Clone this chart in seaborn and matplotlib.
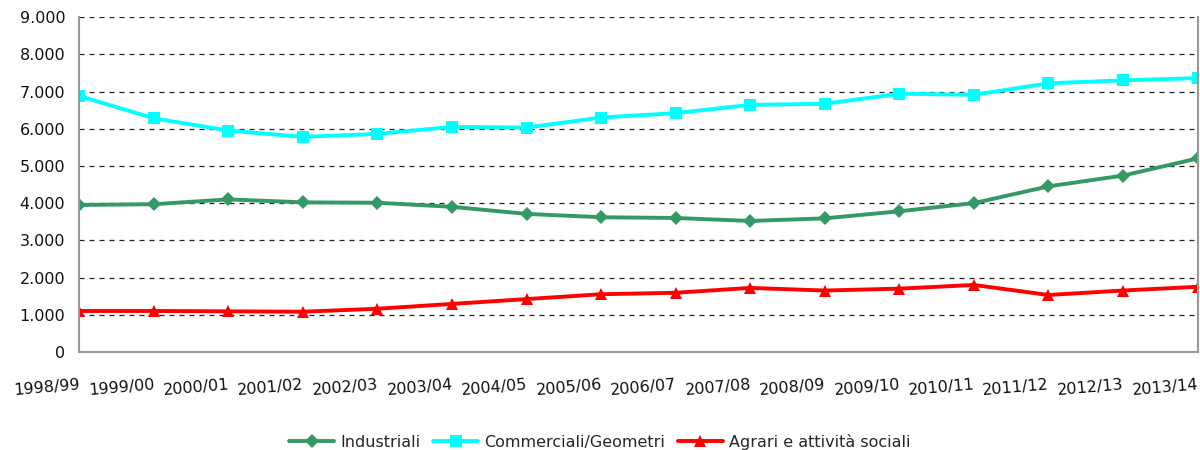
import matplotlib
matplotlib.use("Agg")
import matplotlib.pyplot as plt
import matplotlib.ticker as mticker
import seaborn as sns
import pandas as pd
import numpy as np

anni = ["1998/99", "1999/00", "2000/01", "2001/02", "2002/03", "2003/04", "2004/05", "2005/06",
        "2006/07", "2007/08", "2008/09", "2009/10", "2010/11", "2011/12", "2012/13", "2013/14"]
industriali = [3950, 3970, 4100, 4020, 4010, 3900, 3710, 3620, 3600, 3520, 3590, 3780, 4000, 4450, 4740, 5200]
commerciali = [6880, 6280, 5950, 5780, 5860, 6050, 6030, 6300, 6420, 6640, 6670, 6940, 6910, 7220, 7300, 7360]
agrari = [1100, 1100, 1090, 1080, 1160, 1290, 1420, 1550, 1590, 1720, 1650, 1700, 1800, 1530, 1650, 1750]

serie = {
    "Industriali": (industriali, "#339966", "D", 7),
    "Commerciali/Geometri": (commerciali, "#00FFFF", "s", 9),
    "Agrari e attività sociali": (agrari, "#FF0000", "^", 9),
}

sns.set_style("white")
plt.rcParams["font.family"] = ["DejaVu Sans"]

fig, ax = plt.subplots(figsize=(12, 4.5), dpi=100)
fig.subplots_adjust(left=0.066, right=0.998, top=0.962, bottom=0.218)

x = np.arange(len(anni))
for nome, (vals, col, mk, ms) in serie.items():
    df = pd.DataFrame({"x": x, "y": vals})
    sns.lineplot(data=df, x="x", y="y", ax=ax, color=col, linewidth=2.8,
                 marker=mk, markersize=ms, markeredgewidth=0, label=nome)

ax.set_xlim(0, len(anni) - 1)
ax.set_ylim(0, 9000)
ax.set_yticks(range(0, 9001, 1000))
ax.yaxis.set_major_formatter(mticker.FuncFormatter(lambda v, p: f"{int(v):,}".replace(",", ".")))
ax.set_xticks(x)
ax.set_xticklabels(anni, rotation=5, ha="right", rotation_mode="anchor")
ax.set_xlabel("")
ax.set_ylabel("")

ax.yaxis.grid(True, color="#222222", linestyle=(0, (4, 4)), linewidth=0.9)
ax.xaxis.grid(False)
for s in ax.spines.values():
    s.set_color("#999999")
    s.set_linewidth(1.5)
ax.spines["top"].set_visible(False)

ax.tick_params(axis="both", which="both", direction="out", length=6, width=1,
               color="#bbbbbb", labelsize=11.5, labelcolor="#111111")
ax.tick_params(axis="x", pad=12)
ax.tick_params(axis="y", pad=4)

handles, labels = ax.get_legend_handles_labels()
ax.get_legend().remove()
fig.legend(handles, labels, loc="lower center", bbox_to_anchor=(0.5, -0.032), ncol=3, frameon=False,
           fontsize=11.5, handlelength=2.8, columnspacing=0.8, handletextpad=0.4)

fig.savefig("out.png", dpi=100)
